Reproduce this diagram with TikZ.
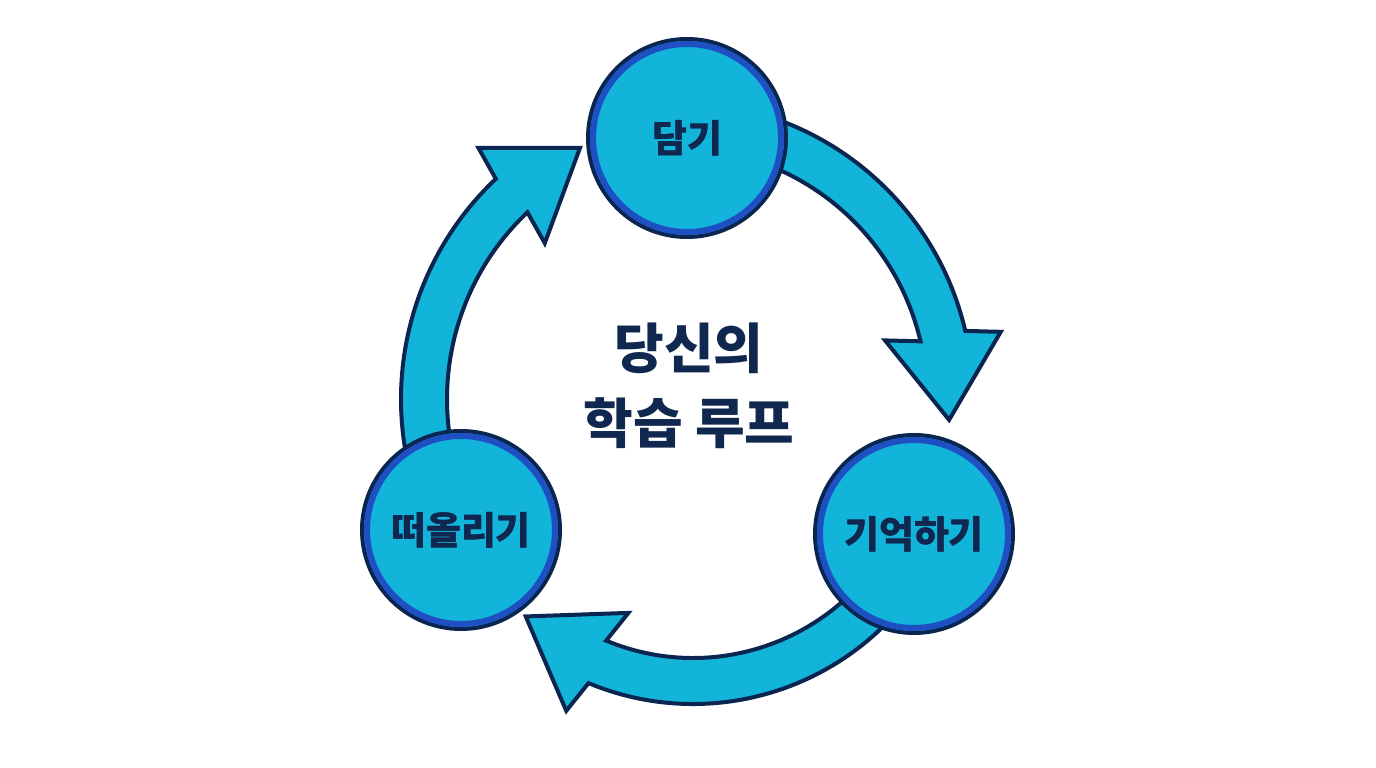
\documentclass[tikz,border=0pt]{standalone}
\usepackage{fontspec}
\newfontfamily\kr{Noto Sans CJK KR}
\usetikzlibrary{calc}
\definecolor{cyanfill}{HTML}{12B4DA}
\definecolor{navy}{HTML}{0A2550}
\definecolor{ringblue}{HTML}{1E4FC3}
\definecolor{txt}{HTML}{10284F}
\newcommand\BlockArc[5]{% #1 centre, #2 radius, #3 start angle, #4 base angle, #5 tip angle
  \coordinate (hb) at ($(#1)+(#4:#2pt)$);
  \coordinate (ht) at ($(#1)+(#5:#2pt)$);
  \filldraw[blockarrow] ($(#1)+(#3:#2pt+23pt)$) arc[start angle=#3, end angle=#4, radius=#2pt+23pt]
    -- ($(hb)!58pt!90:(ht)$) -- (ht) -- ($(hb)!58pt!-90:(ht)$)
    -- ($(#1)+(#4:#2pt-23pt)$) arc[start angle=#4, end angle=#3, radius=#2pt-23pt] -- cycle;
}
\begin{document}
\begin{tikzpicture}[x=1pt,y=1pt,
  blockarrow/.style={fill=cyanfill, draw=navy, line width=4pt, line join=miter},
  stage/.style={circle, fill=cyanfill, draw=navy, line width=4pt, minimum size=198pt, inner sep=0pt,
    font=\kr\bfseries\fontsize{38}{40}\selectfont, text=txt},
  ring/.style={draw=ringblue, line width=6pt},
  title/.style={font=\kr\bfseries\fontsize{54}{75}\selectfont, text=txt, align=center}]
\fill[white] (0,0) rectangle (1376,768);
\useasboundingbox (0,0) rectangle (1376,768);

\coordinate (C1) at (677,370);
\coordinate (C2) at (693,336);
\coordinate (C3) at (704,369);

\BlockArc{C1}{273}{80}{13.1}{-4.6}
\BlockArc{C2}{249}{-30}{-112.6}{-132.2}
\BlockArc{C3}{280}{200}{133.4}{116.3}

\node[stage] (take) at (687,630) {담기};
\node[stage] (keep) at (914,234) {기억하기};
\node[stage] (recall) at (461,238) {떠올리기};
\foreach \n in {take,keep,recall}
  \draw[ring] (\n.center) circle[radius=94pt];
\node[stage, draw=none, fill=none] at (take) {담기};
\node[stage, draw=none, fill=none] at (keep) {기억하기};
\node[stage, draw=none, fill=none] at (recall) {떠올리기};

\node[title] (loop) at (689,382) {당신의\\학습 루프};
\end{tikzpicture}
\end{document}
